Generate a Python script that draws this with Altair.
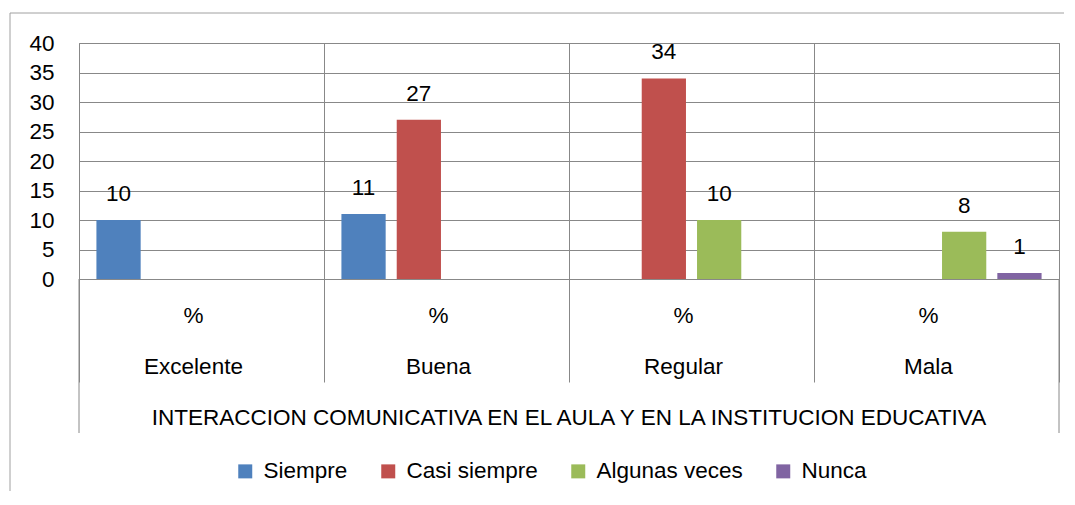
import altair as alt
import pandas as pd

categories = ["Excelente", "Buena", "Regular", "Mala"]
series = ["Siempre", "Casi siempre", "Algunas veces", "Nunca"]
siempre = [10, 11, None, None]
casi_siempre = [None, 27, 34, None]
algunas_veces = [None, None, 10, 8]
nunca = [None, None, None, 1]
colors = ["#4F81BD", "#C0504D", "#9BBB59", "#8064A2"]
level_label = "%"
axis_title = "INTERACCION COMUNICATIVA EN EL AULA Y EN LA INSTITUCION EDUCATIVA"
y_ticks = [0, 5, 10, 15, 20, 25, 30, 35, 40]

rows = []
for s, vals in zip(series, [siempre, casi_siempre, algunas_veces, nunca]):
    for c, v in zip(categories, vals):
        if v is not None:
            rows.append({"cat": c, "serie": s, "valor": v})
df = pd.DataFrame(rows)
cat_df = pd.DataFrame({"cat": categories})

FONT = "Liberation Sans"
FS = 22.5
GRID = "#888888"
FRAME = "#a0a0a0"
W, H = 980, 236

x = alt.X(
    "cat:N", sort=categories,
    scale=alt.Scale(domain=categories, paddingInner=0, paddingOuter=0),
    axis=alt.Axis(title=None, labels=False, domain=False, ticks=True, tickSize=103,
                  tickBand="extent", tickColor=GRID, grid=True, gridColor=GRID),
)
xo = alt.XOffset("serie:N", sort=series,
                 scale=alt.Scale(domain=series, paddingInner=0.2, paddingOuter=0.315))
y = alt.Y(
    "valor:Q", scale=alt.Scale(domain=[0, 40], nice=False),
    axis=alt.Axis(title=None, values=y_ticks, ticks=False, domain=False, labelPadding=25,
                  labelFontSize=FS, labelFont=FONT, labelColor="black",
                  grid=True, gridColor=GRID),
)
color = alt.Color(
    "serie:N", sort=series, scale=alt.Scale(domain=series, range=colors),
    legend=alt.Legend(title=None, orient="none", legendX=155, legendY=417,
                      direction="horizontal", columns=4, symbolType="square",
                      symbolSize=196, symbolStrokeWidth=0, labelFontSize=FS,
                      labelFont=FONT, labelColor="black", labelOffset=7,
                      columnPadding=29, padding=0),
)

base = alt.Chart(df)
bars = base.mark_bar().encode(x=x, xOffset=xo, y=y, color=color)
vals = base.mark_text(font=FONT, fontSize=FS, baseline="alphabetic", dy=-19, color="black").encode(
    x=x, xOffset=xo, y=y, text="valor:Q")

pct = alt.Chart(cat_df).mark_text(font=FONT, fontSize=FS, baseline="alphabetic", dx=-8, color="black").encode(
    x=x, y=alt.value(280), text=alt.value(level_label))
names = alt.Chart(cat_df).mark_text(font=FONT, fontSize=FS, baseline="alphabetic", dx=-8, color="black").encode(
    x=x, y=alt.value(331), text="cat:N")

one = pd.DataFrame({"t": [axis_title]})
title = alt.Chart(one).mark_text(font=FONT, fontSize=FS, baseline="alphabetic", color="black").encode(
    x=alt.value(W / 2), y=alt.value(382), text="t:N")

rule_l = alt.Chart(one).mark_rule(color=GRID).encode(x=alt.value(0), y=alt.value(H), y2=alt.value(390))
rule_r = alt.Chart(one).mark_rule(color=GRID).encode(x=alt.value(W), y=alt.value(H), y2=alt.value(390))
frame_l = alt.Chart(one).mark_rule(color=FRAME).encode(x=alt.value(-69), y=alt.value(-30), y2=alt.value(460))
frame_t = alt.Chart(one).mark_rule(color=FRAME).encode(x=alt.value(-69), x2=alt.value(985), y=alt.value(-30))

chart = alt.layer(bars, vals, pct, names, title, rule_l, rule_r, frame_l, frame_t).properties(
    width=W, height=H,
    autosize=alt.AutoSizeParams(type="none"),
    padding={"left": 71, "top": 35, "right": 5, "bottom": 212},
).configure_view(stroke=GRID, strokeWidth=1)

chart.save("out.html", embed_options={"renderer": "svg", "actions": False})
